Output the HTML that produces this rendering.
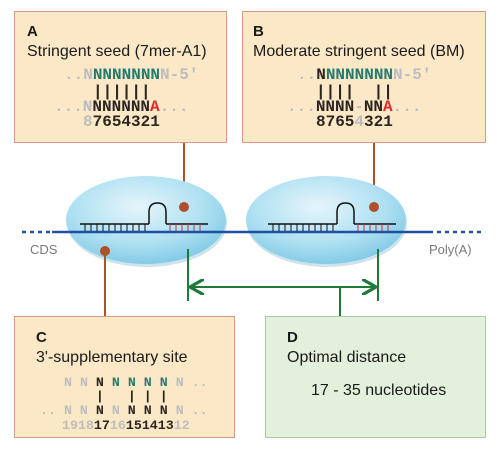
<!DOCTYPE html>
<html><head><meta charset="utf-8"><style>
html,body{margin:0;padding:0;background:#fff;}
svg{display:block;}
.t{font-family:"Liberation Sans",sans-serif;fill:#1a1a1a;}
.m{font-family:"Liberation Mono",monospace;font-weight:bold;}
.g{fill:#bdbdbd}.k{fill:#2b2420}.gr{fill:#237a6e}.r{fill:#e02a2a}
</style></head><body>
<svg width="500" height="453" viewBox="0 0 500 453">
<defs>
<radialGradient id="eg" cx="0.45" cy="0.35" r="0.7">
<stop offset="0" stop-color="#e6f5fb"/><stop offset="0.6" stop-color="#aee0f2"/><stop offset="1" stop-color="#7cc6e4"/>
</radialGradient>
<marker id="ah" markerWidth="8" markerHeight="8" refX="6" refY="4" orient="auto-start-reverse"><path d="M0,0 L7,4 L0,8" fill="none" stroke="#1f7a3a" stroke-width="1.6"/></marker>
</defs>

<line x1="184" y1="142" x2="184" y2="207" stroke="#b0502a" stroke-width="2"/>
<line x1="374" y1="142" x2="374" y2="207" stroke="#b0502a" stroke-width="2"/>

<ellipse cx="147" cy="223" rx="80" ry="44" fill="#9cc9da" opacity="0.5"/>
<ellipse cx="327" cy="223" rx="80" ry="44" fill="#9cc9da" opacity="0.5"/>
<ellipse cx="146" cy="220" rx="80" ry="44" fill="url(#eg)"/>
<ellipse cx="326" cy="220" rx="80" ry="44" fill="url(#eg)"/>

<line x1="22" y1="232" x2="52" y2="232" stroke="#1f4fa0" stroke-width="2.5" stroke-dasharray="4,4"/>
<line x1="52" y1="232" x2="433" y2="232" stroke="#1f4fa0" stroke-width="2.5"/>
<line x1="437" y1="232" x2="482" y2="232" stroke="#1f4fa0" stroke-width="2.5" stroke-dasharray="4,4"/>
<text x="30" y="254" class="t" font-size="13" style="fill:#7a7a7a">CDS</text>
<text x="429" y="254" class="t" font-size="13" style="fill:#7a7a7a">Poly(A)</text>

<g id="dup">
<path d="M80,224 H149 M166,224 H208" stroke="#111" stroke-width="1.5" fill="none"/>
<path d="M149,224 V212 Q149,203 157.5,203 Q166,203 166,212 V224" stroke="#111" stroke-width="1.5" fill="none"/>
<path d="M85,224V231 M91,224V231 M97,224V231 M103,224V231 M109,224V231 M115,224V231 M121,224V231 M127,224V231 M133,224V231 M139,224V231 M145,224V231" stroke="#111" stroke-width="1"/>
<path d="M170,224V231 M176,224V231 M182,224V231 M188,224V231 M194,224V231 M200,224V231" stroke="#c0303a" stroke-width="1"/>
</g>
<use href="#dup" x="188"/>

<circle cx="184" cy="207" r="5" fill="#b0502a"/>
<circle cx="374" cy="207" r="5" fill="#b0502a"/>
<circle cx="105" cy="251" r="5" fill="#b0502a"/>
<line x1="105" y1="251" x2="105" y2="316" stroke="#b0502a" stroke-width="2"/>

<line x1="188" y1="249" x2="188" y2="301" stroke="#1f7a3a" stroke-width="2"/>
<line x1="378" y1="249" x2="378" y2="301" stroke="#1f7a3a" stroke-width="2"/>
<line x1="192" y1="287" x2="374" y2="287" stroke="#1f7a3a" stroke-width="2" marker-start="url(#ah)" marker-end="url(#ah)"/>
<line x1="340" y1="287" x2="340" y2="316" stroke="#1f7a3a" stroke-width="2"/>

<g>
<rect x="14.5" y="11.5" width="212" height="131" fill="#fbe8c6" stroke="#d49b82"/>
<text x="27" y="36" class="t" font-size="15" font-weight="bold">A</text>
<text x="27" y="56" class="t" font-size="16">Stringent seed (7mer-A1)</text>
<text x="64" y="79" class="m" font-size="16"><tspan class="g">..N</tspan><tspan class="gr">NNNNNNN</tspan><tspan class="g">N-5'</tspan></text>
<text x="93" y="96" class="m k" font-size="16">||||||</text>
<text x="54" y="111" class="m" font-size="16"><tspan class="g">...N</tspan><tspan class="k">NNNNNN</tspan><tspan class="r">A</tspan><tspan class="g">...</tspan></text>
<text x="83" y="126" class="m" font-size="16"><tspan class="g">8</tspan><tspan class="k">7654321</tspan></text>
</g>

<g>
<rect x="242.5" y="11.5" width="243" height="131" fill="#fbe8c6" stroke="#d49b82"/>
<text x="253" y="36" class="t" font-size="15" font-weight="bold">B</text>
<text x="253" y="56" class="t" font-size="16">Moderate stringent seed (BM)</text>
<text x="297" y="79" class="m" font-size="16"><tspan class="g">..</tspan><tspan class="k">N</tspan><tspan class="gr">NNNNNNN</tspan><tspan class="g">N-5'</tspan></text>
<text x="316" y="96" class="m k" font-size="16" xml:space="preserve">||||  ||</text>
<text x="287" y="111" class="m" font-size="16"><tspan class="g">...</tspan><tspan class="k">NNNN</tspan><tspan class="g">-</tspan><tspan class="k">NN</tspan><tspan class="r">A</tspan><tspan class="g">...</tspan></text>
<text x="316" y="126" class="m" font-size="16"><tspan class="k">8765</tspan><tspan class="g">4</tspan><tspan class="k">321</tspan></text>
</g>

<g>
<rect x="14.5" y="316.5" width="220" height="121" fill="#fbe8c6" stroke="#d49b82"/>
<text x="36" y="342" class="t" font-size="15" font-weight="bold">C</text>
<text x="36" y="362" class="t" font-size="16">3'-supplementary site</text>
<text x="64" y="386" class="m" font-size="13.3" xml:space="preserve"><tspan class="g">N N </tspan><tspan class="k">N </tspan><tspan class="gr">N N N N </tspan><tspan class="g">N ..</tspan></text>
<text x="64" y="400" class="m k" font-size="13.3" xml:space="preserve">    |   | | |</text>
<text x="40" y="414" class="m" font-size="13.3" xml:space="preserve"><tspan class="g">.. N N </tspan><tspan class="k">N </tspan><tspan class="g">N </tspan><tspan class="k">N N N </tspan><tspan class="g">N ..</tspan></text>
<text x="62" y="429" class="m" font-size="13.3"><tspan class="g">1918</tspan><tspan class="k">17</tspan><tspan class="g">16</tspan><tspan class="k">151413</tspan><tspan class="g">12</tspan></text>
</g>

<g>
<rect x="265.5" y="316.5" width="220" height="121" fill="#e3f0dc" stroke="#a9c9a0"/>
<text x="287" y="342" class="t" font-size="15" font-weight="bold">D</text>
<text x="287" y="362" class="t" font-size="16">Optimal distance</text>
<text x="311" y="395" class="t" font-size="16">17 - 35 nucleotides</text>
</g>
</svg>
</body></html>
